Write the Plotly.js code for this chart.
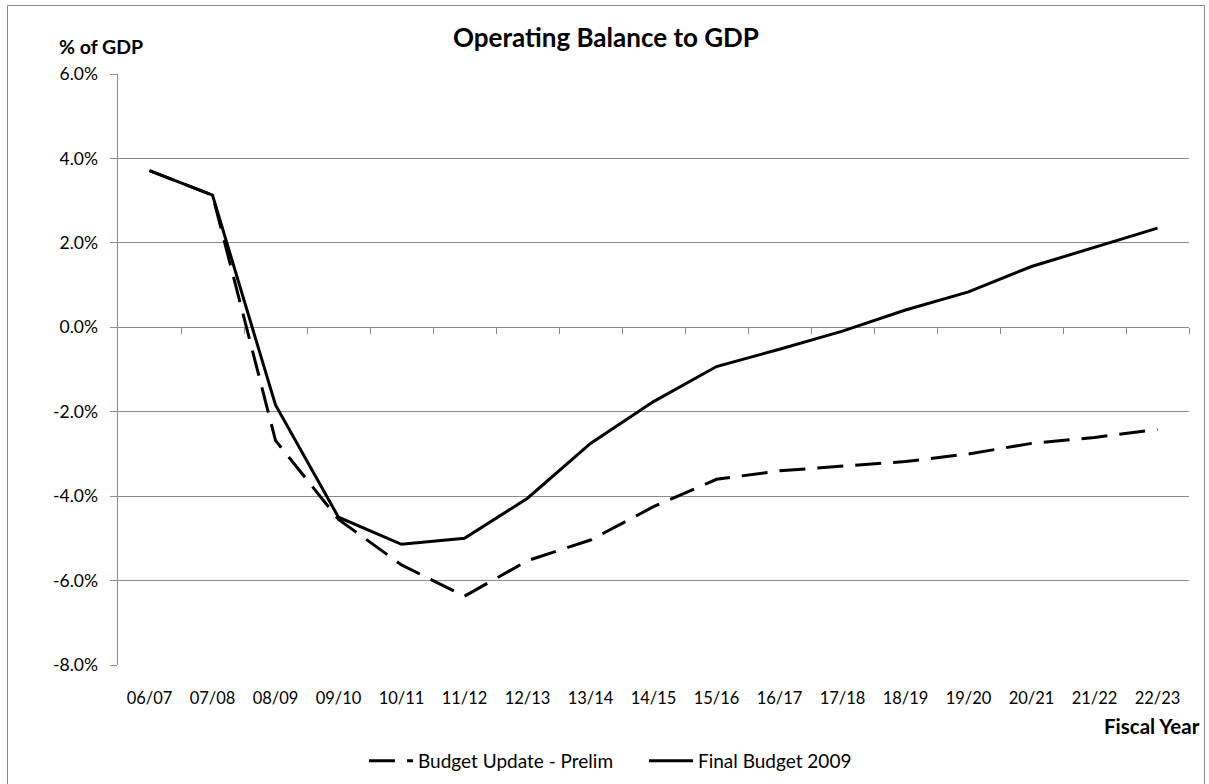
<!DOCTYPE html>
<html>
<head>
<meta charset="utf-8">
<script src="https://cdn.plot.ly/plotly-3.0.1.min.js"></script>
<style>
  html, body { margin: 0; padding: 0; background: #ffffff; }
  #chart { width: 1209px; height: 784px; }
</style>
</head>
<body>
<div id="chart"></div>
<script>
// Fiscal years on the category axis
const fiscalYears = ['06/07','07/08','08/09','09/10','10/11','11/12','12/13','13/14','14/15','15/16','16/17','17/18','18/19','19/20','20/21','21/22','22/23'];

// Operating balance, % of GDP
const budgetUpdatePrelim = [3.71, 3.13, -2.68, -4.55, -5.63, -6.37, -5.53, -5.04, -4.25, -3.60, -3.40, -3.29, -3.18, -3.00, -2.75, -2.61, -2.42];
const finalBudget2009   = [3.71, 3.13, -1.84, -4.50, -5.14, -5.00, -4.05, -2.75, -1.76, -0.93, -0.52, -0.09, 0.41, 0.84, 1.44, 1.90, 2.35];

const yTicks = [-8, -6, -4, -2, 0, 2, 4, 6];

const FONT = 'Lato, "Open Sans", sans-serif';
const GRID = '#8c8c8c';

const idx = fiscalYears.map((_, i) => i);
const boundaries = fiscalYears.map((_, i) => i + 0.5);

// plot area in pixels (used to place the frame and free text in paper units)
const W = 1209, H = 784;
const M = { l: 118, r: 20, t: 74, b: 119, autoexpand: false };
const pw = W - M.l - M.r, ph = H - M.t - M.b;
const px = v => (v - M.l) / pw;
const py = v => (H - M.b - v) / ph;

const traces = [
  {
    name: 'Budget Update - Prelim',
    x: idx, y: budgetUpdatePrelim,
    type: 'scatter', mode: 'lines',
    line: { color: '#000000', width: 3, dash: '26px,12px' },
    hoverinfo: 'skip'
  },
  {
    name: 'Final Budget 2009',
    x: idx, y: finalBudget2009,
    type: 'scatter', mode: 'lines',
    line: { color: '#000000', width: 3 },
    hoverinfo: 'skip'
  },
  {
    // carrier for the tick marks on the zero line
    x: [], y: [], xaxis: 'x2', yaxis: 'y',
    type: 'scatter', mode: 'lines', showlegend: false, hoverinfo: 'skip'
  }
];

const yMin = -8, yMax = 6;

const layout = {
  width: W, height: H,
  margin: M,
  paper_bgcolor: '#ffffff',
  plot_bgcolor: '#ffffff',
  font: { family: FONT, size: 17, color: '#000000' },
  showlegend: true,
  title: {
    text: '<b>Operating Balance to GDP</b>',
    font: { family: FONT, size: 26, color: '#000000' },
    x: px(606), xref: 'paper', xanchor: 'center',
    y: 1 - 38 / H, yref: 'container', yanchor: 'middle'
  },
  xaxis: {
    range: [-0.5, fiscalYears.length - 0.5],
    tickmode: 'array', tickvals: idx, ticktext: fiscalYears,
    showgrid: false, zeroline: false, showline: false,
    ticks: '', ticklabelstandoff: 21,
    tickfont: { family: FONT, size: 16.5, color: '#000000' },
    fixedrange: true
  },
  xaxis2: {
    overlaying: 'x', anchor: 'free',
    position: (0 - yMin) / (yMax - yMin),
    range: [-0.5, fiscalYears.length - 0.5],
    tickmode: 'array', tickvals: boundaries,
    ticks: 'outside', ticklen: 6, tickwidth: 1, tickcolor: GRID,
    showticklabels: false, showgrid: false, zeroline: false, showline: false,
    fixedrange: true
  },
  yaxis: {
    range: [yMin, yMax],
    tickmode: 'array', tickvals: yTicks,
    ticktext: yTicks.map(v => v.toFixed(1) + '%'),
    showgrid: true, gridcolor: GRID, gridwidth: 1,
    zeroline: true, zerolinecolor: GRID, zerolinewidth: 1,
    showline: true, linecolor: GRID, linewidth: 1.5,
    ticks: 'outside', ticklen: 7, tickwidth: 1, tickcolor: GRID,
    ticklabelstandoff: 8,
    tickfont: { family: FONT, size: 17.5, color: '#000000' },
    fixedrange: true
  },
  legend: {
    orientation: 'h',
    x: px(364), xanchor: 'left',
    y: py(761), yanchor: 'middle',
    font: { family: FONT, size: 19, color: '#000000' },
    bgcolor: 'rgba(0,0,0,0)',
    itemwidth: 44,
    entrywidth: 221, entrywidthmode: 'pixels',
    traceorder: 'normal'
  },
  annotations: [
    {
      text: '<b>% of GDP</b>', xref: 'paper', yref: 'paper',
      x: px(57), xanchor: 'left', y: py(46), yanchor: 'middle',
      showarrow: false, font: { family: FONT, size: 19.5, color: '#000000' }
    },
    {
      text: '<b>Fiscal Year</b>', xref: 'paper', yref: 'paper',
      x: px(1202), xanchor: 'right', y: py(726), yanchor: 'middle',
      showarrow: false, font: { family: FONT, size: 20.5, color: '#000000' }
    }
  ],
  shapes: [
    {
      // outer chart frame
      type: 'rect', xref: 'paper', yref: 'paper', layer: 'below',
      x0: px(7.5), x1: px(1204.5), y0: py(790), y1: py(5.5),
      line: { color: '#8c8c8c', width: 1 }, fillcolor: 'rgba(0,0,0,0)'
    }
  ]
};

Plotly.newPlot('chart', traces, layout, { staticPlot: true, displayModeBar: false });
</script>
</body>
</html>
